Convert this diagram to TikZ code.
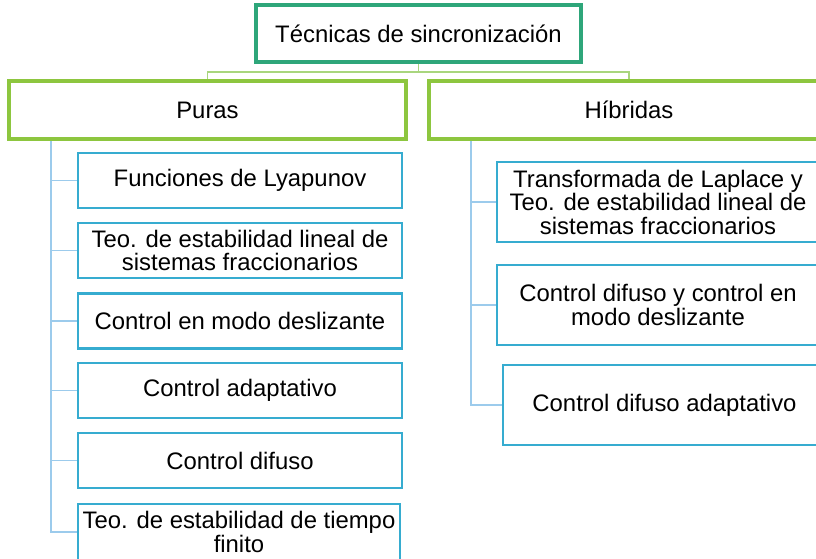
\documentclass[tikz,border=0pt]{standalone}
\usepackage{fontspec}
\setmainfont{Liberation Sans}
\usetikzlibrary{calc}
\definecolor{topc}{HTML}{2EA67A}
\definecolor{grnc}{HTML}{8DC63F}
\definecolor{grnl}{HTML}{A9D67E}
\definecolor{bluc}{HTML}{36ACD0}
\definecolor{blul}{HTML}{9CCBEC}
\tikzset{
  box/.style={draw, fill=white, rectangle, inner sep=0pt, align=center,
    font=\fontsize{17.9}{17.6}\selectfont, text=black},
  topbox/.style={box, draw=topc, line width=1.9pt},
  lvlbox/.style={box, draw=grnc, line width=1.9pt},
  leafbox/.style={box, draw=bluc, line width=1.9pt},
  gconn/.style={draw=grnl, line width=1.3pt},
  bconn/.style={draw=blul, line width=1.3pt},
}
\begin{document}
\begin{tikzpicture}[x=0.75pt, y=-0.75pt]
\useasboundingbox (0,0) rectangle (816,558);
\clip (0,0) rectangle (816,558);
\fill[white] (0,0) rectangle (816,558);

\coordinate (lv) at (51,138);
\coordinate (rv) at (471,138);
\coordinate (tj) at (418.5,72);

% nodes
\node[topbox, minimum width=323*0.75pt, minimum height=55*0.75pt] (top) at (418.5,33.5) {Técnicas de sincronización};
\node[lvlbox, minimum width=395*0.75pt, minimum height=56*0.75pt] (puras) at (207.5,110) {Puras};
\node[lvlbox, minimum width=398*0.75pt, minimum height=56*0.75pt] (hib) at (629,110) {Híbridas};

\node[leafbox, minimum width=324*0.75pt, minimum height=55*0.75pt] (L1) at (240,180.5) {Funciones de Lyapunov};
\node[leafbox, minimum width=324*0.75pt, minimum height=55*0.75pt] (L2) at (240,250.5) {Teo. de estabilidad lineal de\\sistemas fraccionarios};
\node[leafbox, minimum width=324*0.75pt, minimum height=55*0.75pt] (L3) at (240,321) {Control en modo deslizante};
\node[leafbox, minimum width=324*0.75pt, minimum height=55*0.75pt] (L4) at (240,390.5) {Control adaptativo};
\node[leafbox, minimum width=324*0.75pt, minimum height=55*0.75pt] (L5) at (240,460.5) {Control difuso};
\node[leafbox, minimum width=322*0.75pt, minimum height=56*0.75pt] (L6) at (239,532) {Teo. de estabilidad de tiempo\\finito};

\node[leafbox, minimum width=322*0.75pt, minimum height=80*0.75pt] (R1) at (658,202) {Transformada de Laplace y\\Teo. de estabilidad lineal de\\sistemas fraccionarios};
\node[leafbox, minimum width=322*0.75pt, minimum height=80*0.75pt] (R2) at (658,305) {Control difuso y control en\\modo deslizante};
\node[leafbox, minimum width=323*0.75pt, minimum height=80*0.75pt] (R3) at (664.5,405) {Control difuso adaptativo};

% connectors
\draw[gconn] (top.south) -- (tj);
\draw[gconn] (tj) -| (puras.north);
\draw[gconn] (tj) -| (hib.north);
\foreach \n in {L1,L2,L3,L4,L5,L6} {\draw[bconn] (\n.west) -| (lv);}
\foreach \n in {R1,R2,R3} {\draw[bconn] (\n.west) -| (rv);}

% redraw box borders over the connector ends
\draw[draw=grnc, line width=1.9pt] (puras.south west) rectangle (puras.north east);
\draw[draw=grnc, line width=1.9pt] (hib.south west) rectangle (hib.north east);
\draw[draw=topc, line width=1.9pt] (top.south west) rectangle (top.north east);
\end{tikzpicture}
\end{document}
